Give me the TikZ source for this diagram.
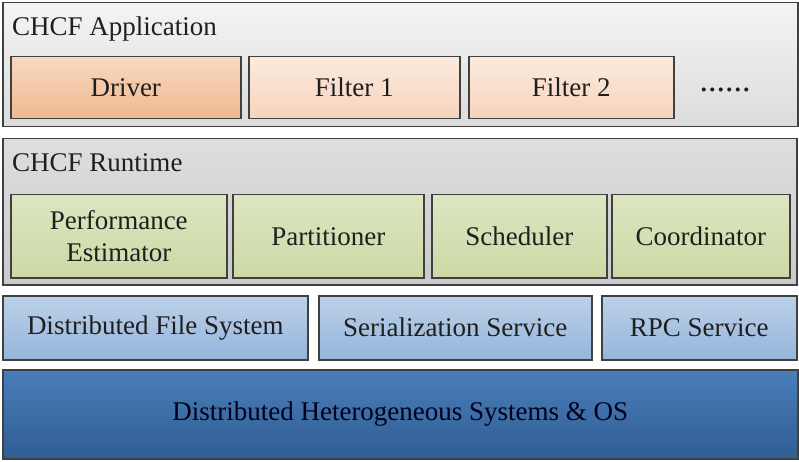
\documentclass[tikz,border=0pt]{standalone}
\usepackage{fontspec}
\setmainfont{Liberation Serif}
\begin{document}
\begin{tikzpicture}[x=1pt,y=-1pt,
  every node/.style={font=\rmfamily\fontsize{27}{31}\selectfont, text=black!88},
  box/.style={draw=black!75, line width=1.5pt, inner sep=0pt, anchor=north west},
  ]
\definecolor{appA}{HTML}{F4F4F4}
\definecolor{appB}{HTML}{DCDCDC}
\definecolor{rtA}{HTML}{DEDEDE}
\definecolor{rtB}{HTML}{CACACA}
\definecolor{drvA}{HTML}{F8D8C0}
\definecolor{drvB}{HTML}{F0B891}
\definecolor{filA}{HTML}{FCEBDF}
\definecolor{filB}{HTML}{F6D3BC}
\definecolor{grnA}{HTML}{DCE6C0}
\definecolor{grnB}{HTML}{CCD9A6}
\definecolor{svcA}{HTML}{BDD1E8}
\definecolor{svcB}{HTML}{94B5DA}
\definecolor{osA}{HTML}{4A7EBB}
\definecolor{osB}{HTML}{305D92}
\useasboundingbox (0,0) rectangle (799,462);
\fill[white] (0,0) rectangle (799,462);

% Application layer
\node[box, top color=appA, bottom color=appB, minimum width=795pt, minimum height=124pt] (app) at (2,2) {};
\node[anchor=base west, inner sep=0pt] (apptitle) at (12,36) {CHCF Application};
\node[box, top color=drvA, bottom color=drvB, minimum width=230pt, minimum height=62pt] (driver) at (10,56) {};
\node at (driver.center) (driverlbl) {Driver};
\node[box, top color=filA, bottom color=filB, minimum width=211pt, minimum height=62pt] (filter1) at (248,56) {};
\node at (filter1.center) (f1lbl) {Filter 1};
\node[box, top color=filA, bottom color=filB, minimum width=205pt, minimum height=62pt] (filter2) at (468,56) {};
\node at (filter2.center) (f2lbl) {Filter 2};
\node[anchor=base, inner sep=0pt, font=\rmfamily\fontsize{34}{36}\selectfont] (dots) at (725,92) {......};

% Runtime layer
\node[box, top color=rtA, bottom color=rtB, minimum width=794pt, minimum height=146pt] (rt) at (2,138) {};
\node[anchor=base west, inner sep=0pt] (rttitle) at (12,172) {CHCF Runtime};
\node[box, top color=grnA, bottom color=grnB, minimum width=216pt, minimum height=83pt] (perf) at (10,194) {};
\node[align=center, font=\rmfamily\fontsize{27}{32}\selectfont] at (perf.center) (perflbl) {Performance\\Estimator};
\node[box, top color=grnA, bottom color=grnB, minimum width=191pt, minimum height=83pt] (part) at (232,194) {};
\node at (part.center) (partlbl) {Partitioner};
\node[box, top color=grnA, bottom color=grnB, minimum width=175pt, minimum height=83pt] (sched) at (431,194) {};
\node at (sched.center) (schedlbl) {Scheduler};
\node[box, top color=grnA, bottom color=grnB, minimum width=178pt, minimum height=83pt] (coord) at (611,194) {};
\node at (coord.center) (coordlbl) {Coordinator};

% Services layer
\node[box, top color=svcA, bottom color=svcB, minimum width=305pt, minimum height=64pt] (dfs) at (2,295) {};
\node at (dfs.center) (dfslbl) {Distributed File System};
\node[box, top color=svcA, bottom color=svcB, minimum width=273pt, minimum height=64pt] (ser) at (318,295) {};
\node at (ser.center) (serlbl) {Serialization Service};
\node[box, top color=svcA, bottom color=svcB, minimum width=195pt, minimum height=64pt] (rpc) at (601,295) {};
\node at (rpc.center) (rpclbl) {RPC Service};

% OS layer
\node[box, top color=osA, bottom color=osB, minimum width=795pt, minimum height=89pt] (os) at (2,369) {};
\node[text=black!90!blue] at (os.center) (oslbl) {Distributed Heterogeneous Systems \& OS};
\end{tikzpicture}
\end{document}
